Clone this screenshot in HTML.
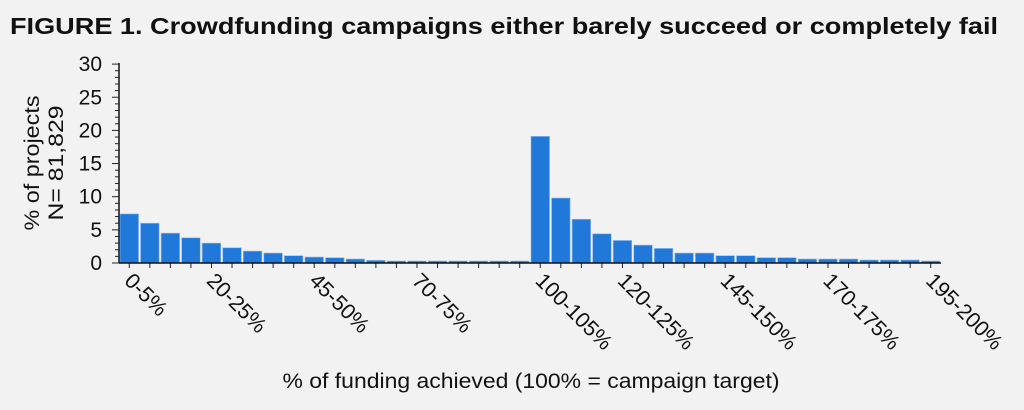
<!DOCTYPE html>
<html><head><meta charset="utf-8"><style>
html,body{margin:0;padding:0;background:#f2f2f2;}
svg{display:block;font-family:"Liberation Sans",sans-serif;}
</style></head><body>
<svg id="s" width="1024" height="410" viewBox="0 0 1024 410">
<rect width="1024" height="410" fill="#f2f2f2"/>
<text x="10" y="34" font-size="23" font-weight="bold" fill="#111" textLength="988" lengthAdjust="spacingAndGlyphs">FIGURE 1. Crowdfunding campaigns either barely succeed or completely fail</text>
<text transform="translate(39,163) rotate(-90)" font-size="21" text-anchor="middle" fill="#111" textLength="135" lengthAdjust="spacingAndGlyphs">% of projects</text>
<text transform="translate(63,163) rotate(-90)" font-size="21" text-anchor="middle" fill="#111" textLength="115" lengthAdjust="spacingAndGlyphs">N= 81,829</text>
<text x="531" y="388" font-size="21" text-anchor="middle" fill="#111" textLength="497" lengthAdjust="spacingAndGlyphs">% of funding achieved (100% = campaign target)</text>
<g id="g"></g>
</svg>
<script>
var v=[7.4,6.0,4.5,3.8,3.0,2.3,1.8,1.5,1.1,0.9,0.8,0.6,0.4,0.3,0.3,0.3,0.3,0.3,0.3,0.3,19.1,9.8,6.6,4.4,3.4,2.7,2.2,1.5,1.5,1.1,1.1,0.8,0.8,0.6,0.6,0.6,0.45,0.45,0.45,0.3];
var x0=119,x1=941,y0=263,k=6.63,w=(x1-x0)/40,h='';
for(var i=0;i<40;i++){var x=x0+i*w,hh=v[i]*k;h+='<rect x="'+(x+1)+'" y="'+(y0-hh)+'" width="'+(w-2)+'" height="'+hh+'" fill="#2079d9" stroke="#8fbbea" stroke-width="0.6"/>';
h+='<line x1="'+(x+w/2)+'" y1="'+y0+'" x2="'+(x+w/2)+'" y2="'+(y0+5)+'" stroke="#222"/>';}
h+='<line x1="'+x0+'" y1="'+y0+'" x2="'+x1+'" y2="'+y0+'" stroke="#111" stroke-width="1.5"/>';
h+='<line x1="'+x0+'" y1="63" x2="'+x0+'" y2="'+y0+'" stroke="#111" stroke-width="1.5"/>';
for(var t=0;t<=30;t++){var y=y0-t*k,m=t%5==0;h+='<line x1="'+(m?112:115)+'" y1="'+y+'" x2="'+x0+'" y2="'+y+'" stroke="#222"/>';
if(m)h+='<text x="102" y="'+(y+7)+'" font-size="21" text-anchor="end" fill="#111">'+t+'</text>';}
var labs={0:'0-5%',4:'20-25%',9:'45-50%',14:'70-75%',20:'100-105%',24:'120-125%',29:'145-150%',34:'170-175%',39:'195-200%'};
for(var j in labs){var cx=x0+(+j+0.5)*w-6;h+='<text transform="translate('+cx+',282) rotate(45)" font-size="21.5" fill="#111">'+labs[j]+'</text>';}
document.getElementById('g').innerHTML=h;
</script>
</body></html>
